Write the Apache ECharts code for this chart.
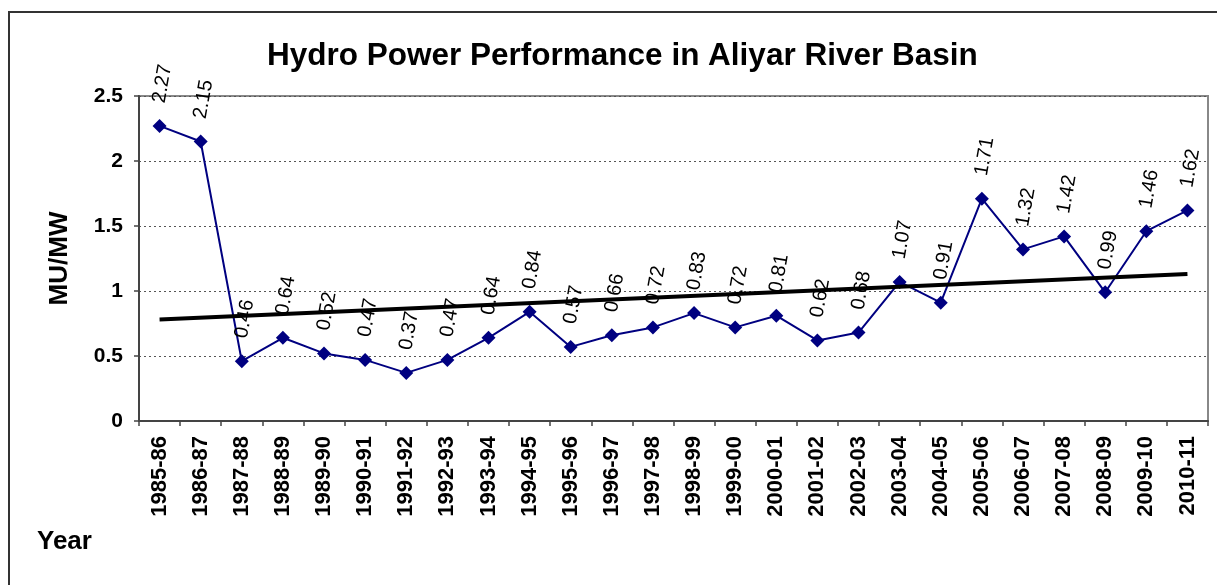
<!DOCTYPE html>
<html>
<head>
<meta charset="utf-8">
<script src="https://cdn.jsdelivr.net/npm/echarts@6/dist/echarts.min.js"></script>
<style>
html,body{margin:0;padding:0;background:#fff;}
#chart{width:1217px;height:585px;}
</style>
</head>
<body>
<div id="chart"></div>
<script>
const categories = ['1985-86','1986-87','1987-88','1988-89','1989-90','1990-91','1991-92','1992-93','1993-94','1994-95','1995-96','1996-97','1997-98','1998-99','1999-00','2000-01','2001-02','2002-03','2003-04','2004-05','2005-06','2006-07','2007-08','2008-09','2009-10','2010-11'];
const muPerMw = [2.27,2.15,0.46,0.64,0.52,0.47,0.37,0.47,0.64,0.84,0.57,0.66,0.72,0.83,0.72,0.81,0.62,0.68,1.07,0.91,1.71,1.32,1.42,0.99,1.46,1.62];
const trendEnds = [0.78, 1.13];
const yTicks = [0, 0.5, 1, 1.5, 2, 2.5];

const FONT = "'Liberation Sans', Arial, sans-serif";
const chart = echarts.init(document.getElementById('chart'));
chart.setOption({
  animation: false,
  backgroundColor: '#fff',
  title: {
    text: 'Hydro Power Performance in Aliyar River Basin',
    left: 262, top: 35,
    textStyle: {fontFamily: FONT, fontSize: 31.5, fontWeight: 'bold', color: '#000'}
  },
  graphic: [
    {type: 'rect', shape: {x: 9, y: 12, width: 1240, height: 640}, style: {fill: 'none', stroke: '#333', lineWidth: 2}, silent: true},
    {type: 'text', left: 37, top: 529, style: {text: 'Year', font: "bold 26px 'Liberation Sans', Arial, sans-serif", fill: '#000'}}
  ],
  grid: {left: 139, top: 96, right: 9, bottom: 164, show: true, borderColor: '#888', borderWidth: 2, backgroundColor: 'transparent'},
  xAxis: {
    type: 'category', data: categories, boundaryGap: true,
    axisLine: {lineStyle: {color: '#444', width: 2}},
    axisTick: {show: true, length: 5, lineStyle: {color: '#444', width: 1.5}},
    axisLabel: {rotate: 90, margin: 15, interval: 0, fontFamily: FONT, fontSize: 22, fontWeight: 'bold', color: '#000'},
    splitLine: {show: false}
  },
  yAxis: {
    type: 'value', min: yTicks[0], max: yTicks[yTicks.length-1], interval: 0.5,
    name: 'MU/MW', nameLocation: 'middle', nameGap: 66, nameRotate: 90,
    nameTextStyle: {fontFamily: FONT, fontSize: 26, fontWeight: 'bold', color: '#000'},
    axisLine: {show: true, lineStyle: {color: '#444', width: 2}},
    axisTick: {show: true, length: 5, lineStyle: {color: '#444', width: 1.5}},
    axisLabel: {margin: 16, fontFamily: FONT, fontSize: 21, fontWeight: 'bold', color: '#000',
      formatter: v => String(v)},
    splitLine: {show: true, lineStyle: {color: '#555', width: 1, type: [2, 3]}}
  },
  series: [
    {
      type: 'line', data: muPerMw, symbol: 'diamond', symbolSize: 14,
      lineStyle: {color: '#000080', width: 2},
      itemStyle: {color: '#000080'},
      label: {show: true, position: 'top', distance: 19, rotate: 80, align: 'left', verticalAlign: 'middle', offset: [-3, 0],
        fontFamily: FONT, fontSize: 20, color: '#000', formatter: p => String(p.value)},
      z: 2
    },
    {
      type: 'line', data: [[categories[0], trendEnds[0]], [categories[categories.length-1], trendEnds[1]]],
      symbol: 'none', lineStyle: {color: '#000', width: 4}, silent: true, z: 3
    }
  ]
});
</script>
</body>
</html>
